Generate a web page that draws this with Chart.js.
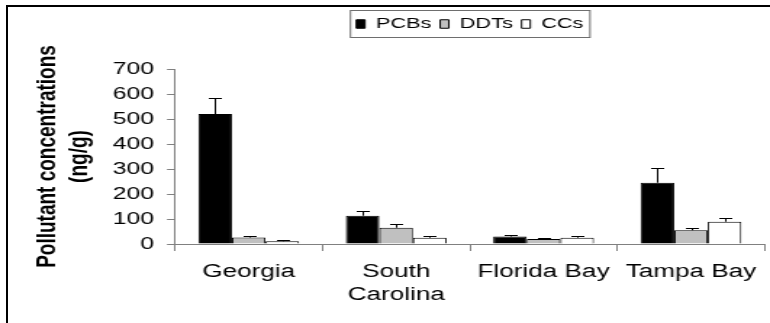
<!DOCTYPE html>
<html>
<head>
<meta charset="utf-8">
<script src="https://cdn.jsdelivr.net/npm/chart.js@4"></script>
<style>
  html, body { margin: 0; padding: 0; background: #fff; }
  #wrap { position: relative; width: 770px; height: 323px; overflow: hidden; }
  #frame { position: absolute; left: 6px; top: 5px; width: 900px; height: 400px;
           border-left: 2px solid #000; border-top: 2px solid #000; }
  /* the original figure is stretched sideways, so the canvas is too */
  #chart { position: absolute; left: 0; top: 0; transform: scaleX(1.4501); transform-origin: 0 0; }
</style>
</head>
<body>
<div id="wrap">
  <div id="frame"></div>
  <canvas id="chart" width="531" height="323"></canvas>
</div>
<script>
// values (ng/g), error = upper whisker length
const sites = ['Georgia', ['South', 'Carolina'], 'Florida Bay', 'Tampa Bay'];
const pcbs = [520, 113, 30, 245];
const pcbsErr = [64, 20, 8, 59];
const ddts = [26, 65, 20, 55];
const ddtsErr = [5, 14, 4, 10];
const ccs = [11, 25, 25, 89];
const ccsErr = [6, 7, 6, 14];
const yTicks = [0, 100, 200, 300, 400, 500, 600, 700];

const errors = [pcbsErr, ddtsErr, ccsErr];
const FONT = "'Liberation Sans', Arial, sans-serif";

// upward error bars with a small cap
const errorBars = {
    id: 'errorBars',
    afterDatasetsDraw(chart) {
        const ctx = chart.ctx;
        const y = chart.scales.y;
        ctx.save();
        ctx.strokeStyle = '#000';
        ctx.lineWidth = 1;
        chart.data.datasets.forEach((ds, i) => {
            chart.getDatasetMeta(i).data.forEach((bar, j) => {
                const top = y.getPixelForValue(ds.data[j] + errors[i][j]);
                const x = Math.round(bar.x) + 0.5;
                const t = Math.round(top) + 0.5;
                ctx.beginPath();
                ctx.moveTo(x, bar.y);
                ctx.lineTo(x, t);
                ctx.moveTo(x - 4.5, t);
                ctx.lineTo(x + 4.5, t);
                ctx.stroke();
            });
        });
        ctx.restore();
    }
};

// put the legend up near the frame and draw a box round it
const legendFrame = {
    id: 'legendFrame',
    afterUpdate(chart) {
        const lg = chart.legend;
        const d = 10.5 - lg.top;
        lg.top += d;
        lg.bottom += d;
        lg.legendHitBoxes.forEach(h => { h.top += d; });
    },
    afterDraw(chart) {
        const hb = chart.legend.legendHitBoxes;
        const last = hb[hb.length - 1];
        const x0 = hb[0].left - 4;
        const x1 = last.left + last.width + 4.5;
        const ctx = chart.ctx;
        ctx.save();
        ctx.strokeStyle = '#6e6e6e';
        ctx.lineWidth = 1;
        ctx.strokeRect(x0, 10.5, x1 - x0, 27);
        ctx.restore();
    }
};

new Chart(document.getElementById('chart').getContext('2d'), {
    type: 'bar',
    data: {
        labels: sites,
        datasets: [
            { label: 'PCBs', data: pcbs, backgroundColor: '#000000', borderColor: '#000', borderWidth: 1 },
            { label: 'DDTs', data: ddts, backgroundColor: '#c0c0c0', borderColor: '#000', borderWidth: 1 },
            { label: 'CCs', data: ccs, backgroundColor: '#ffffff', borderColor: '#000', borderWidth: 1 }
        ]
    },
    options: {
        responsive: false,
        animation: false,
        devicePixelRatio: 1,
        categoryPercentage: 0.683,
        barPercentage: 1.0,
        layout: { padding: { top: 38, right: 2, left: 0, bottom: 0 } },
        plugins: {
            legend: {
                position: 'top',
                fullSize: false,
                labels: {
                    color: '#000',
                    font: { family: FONT, size: 15 },
                    boxWidth: 6,
                    boxHeight: 8.5,
                    padding: 6
                }
            },
            tooltip: { enabled: false }
        },
        scales: {
            x: {
                border: { color: '#808080', width: 1 },
                grid: { display: true, drawOnChartArea: false, drawTicks: true, tickLength: 7, color: '#808080' },
                ticks: { color: '#000', padding: 9, maxRotation: 0, font: { family: FONT, size: 18, lineHeight: 1.3 } },
                afterFit: s => { s.height = 79; }
            },
            y: {
                min: 0,
                max: 700,
                border: { color: '#808080', width: 1 },
                grid: { display: true, drawOnChartArea: false, drawTicks: true, tickLength: 5.5, color: '#808080' },
                afterBuildTicks: s => { s.ticks = yTicks.map(v => ({ value: v })); },
                ticks: { color: '#000', padding: 9, font: { family: FONT, size: 17 } },
                title: {
                    display: true,
                    text: ['Pollutant concentrations', '(ng/g)'],
                    color: '#000',
                    font: { family: FONT, size: 19, weight: 'bold', lineHeight: 1.2 },
                    padding: { top: 21, bottom: 0 }
                },
                afterFit: s => { s.width = 120.7; }
            }
        }
    },
    plugins: [errorBars, legendFrame]
});
</script>
</body>
</html>
